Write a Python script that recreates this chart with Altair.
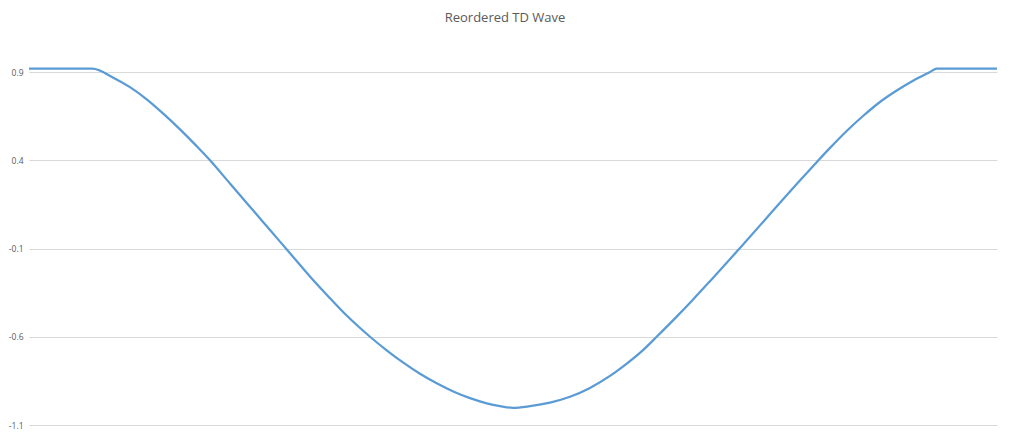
import altair as alt
import pandas as pd

# sample position (percent of series length) and wave value
sample = [0, 6.54, 8.71, 10.43, 12.16, 13.87, 15.60, 17.32, 18.70, 20.76,
          22.49, 24.20, 25.93, 27.65, 29.37, 31.10, 32.82, 35.23, 36.95, 38.67,
          40.39, 42.12, 43.83, 45.56, 47.28, 48.66, 50.00, 51.76, 53.82, 55.89,
          57.95, 60.02, 61.75, 63.46, 64.84, 66.91, 68.63, 70.35, 72.08, 73.45,
          75.86, 77.58, 79.31, 81.44, 82.75, 84.47, 86.19, 87.91, 89.64, 91.37,
          93.08, 93.77, 100]
value = [0.919, 0.919, 0.868, 0.814, 0.745, 0.664, 0.575, 0.480, 0.400, 0.268,
         0.158, 0.049, -0.061, -0.171, -0.280, -0.382, -0.480, -0.600, -0.677,
         -0.747, -0.810, -0.864, -0.910, -0.948, -0.977, -0.993, -1.003, -0.993,
         -0.973, -0.940, -0.890, -0.822, -0.752, -0.674, -0.600, -0.486, -0.387,
         -0.285, -0.181, -0.097, 0.052, 0.159, 0.265, 0.393, 0.470, 0.566,
         0.652, 0.730, 0.795, 0.852, 0.900, 0.919, 0.919]
y_ticks = [-1.1, -0.6, -0.1, 0.4, 0.9]

df = pd.DataFrame({"sample": sample, "value": value})

chart = alt.Chart(df).mark_line(
    color="#5B9BD5", strokeWidth=2.25, clip=False, interpolate="monotone"
).encode(
    x=alt.X("sample:Q", axis=None,
            scale=alt.Scale(domain=[0, 100], nice=False, zero=False)),
    y=alt.Y("value:Q",
            scale=alt.Scale(domain=[-1.1, 0.9], nice=False, zero=False),
            axis=alt.Axis(values=y_ticks, title=None, domain=False, ticks=False,
                          labelPadding=6, labelFontSize=8.5, labelColor="#595959",
                          labelFont="Open Sans", gridColor="#D9D9D9",
                          labelExpr="'' + datum.value")),
).properties(
    width=968, height=353,
    title=alt.TitleParams("Reordered TD Wave", fontSize=13, font="Open Sans",
                          color="#595959", fontWeight="normal", frame="group",
                          anchor="middle", dx=-8, offset=39),
    autosize=alt.AutoSizeParams(type="none"),
    padding={"left": 21, "top": 64, "right": 4, "bottom": 12},
).configure_view(stroke=None)

chart.save("out.html", embed_options={"renderer": "svg", "actions": False})
